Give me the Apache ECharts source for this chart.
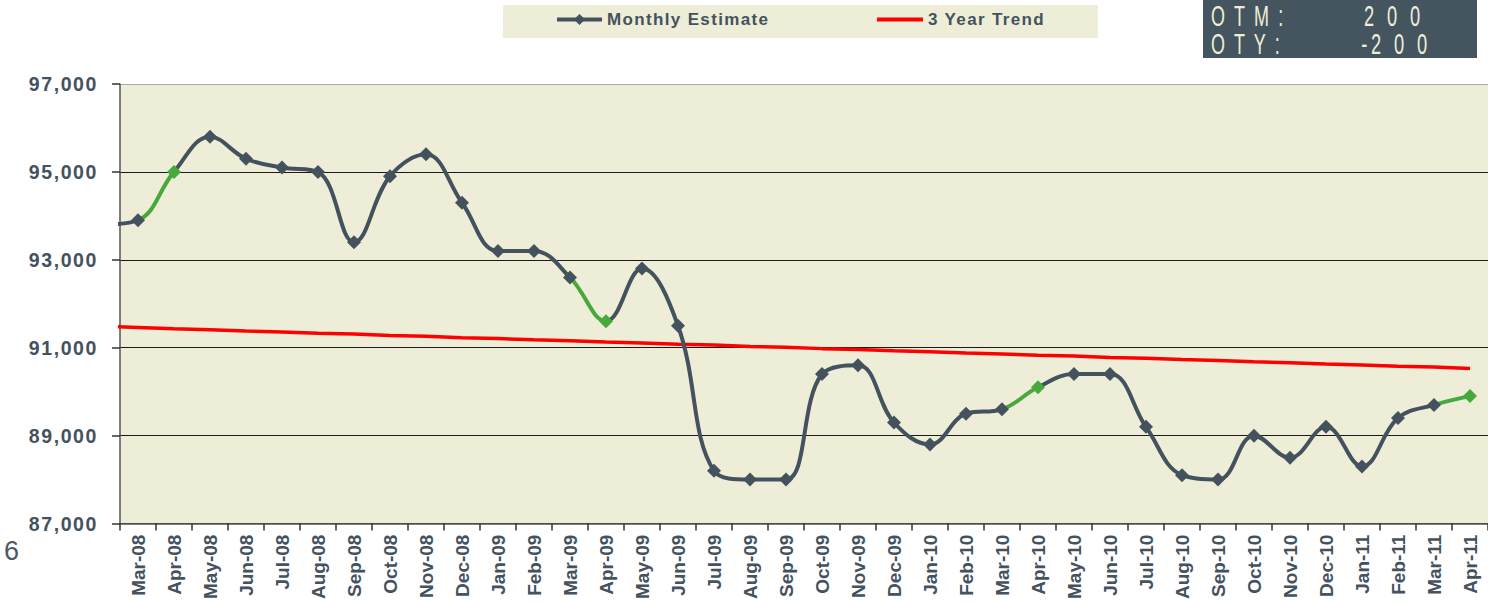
<!DOCTYPE html>
<html>
<head>
<meta charset="utf-8">
<script src="https://cdn.jsdelivr.net/npm/echarts@6/dist/echarts.min.js"></script>
<style>
  html, body { margin: 0; padding: 0; background: #ffffff; }
  #chart { width: 1488px; height: 602px; }
</style>
</head>
<body>
<div id="chart"></div>
<script>
// ---------------- data ----------------
// Feb-08 lies just left of the visible axis range (the lines run in from the left edge)
const categories = [
  'Feb-08',
  'Mar-08','Apr-08','May-08','Jun-08','Jul-08','Aug-08','Sep-08','Oct-08','Nov-08','Dec-08',
  'Jan-09','Feb-09','Mar-09','Apr-09','May-09','Jun-09','Jul-09','Aug-09','Sep-09','Oct-09','Nov-09','Dec-09',
  'Jan-10','Feb-10','Mar-10','Apr-10','May-10','Jun-10','Jul-10','Aug-10','Sep-10','Oct-10','Nov-10','Dec-10',
  'Jan-11','Feb-11','Mar-11','Apr-11'
];
const firstVisibleMonth = 'Mar-08';
const monthlyEstimate = [
  93800,
  93900, 95000, 95800, 95300, 95100, 95000, 93400, 94900, 95400, 94300,
  93200, 93200, 92600, 91600, 92800, 91500, 88200, 88000, 88000, 90400, 90600, 89300,
  88800, 89500, 89600, 90100, 90400, 90400, 89200, 88100, 88000, 89000, 88500, 89200,
  88300, 89400, 89700, 89900
];
const threeYearTrend = [
  91490,
  91460, 91430, 91410, 91380, 91360, 91330, 91310, 91280, 91260, 91230,
  91210, 91180, 91160, 91130, 91110, 91080, 91060, 91030, 91010, 90980, 90960, 90930,
  90910, 90880, 90860, 90830, 90810, 90780, 90760, 90730, 90710, 90680, 90660, 90630,
  90610, 90580, 90560, 90530
];
const greenMonths = ['Apr-08', 'Apr-09', 'Apr-10', 'Apr-11'];
const yMin = 87000, yMax = 97000, yStep = 2000;
const seriesNames = ['Monthly Estimate', '3 Year Trend'];
const boxLabels = ['O T M :', 'O T Y :'];
const boxValues = ['2 0 0', '-2 0 0'];
const pageNumber = '6';

// ---------------- styling ----------------
const FONT = "'Liberation Sans', Arial, Helvetica, sans-serif";
const SLATE = '#44525E';
const GREEN = '#47A83C';
const CREAM = '#EEEDD8';
const BOX = '#455560';

const greenPieces = greenMonths.map(m => {
  const i = categories.indexOf(m);
  return { gt: i - 1, lte: i, color: GREEN };
});

const chart = echarts.init(document.getElementById('chart'), null, { renderer: 'svg' });

const boxText = (text, x, y, align, size) => ({
  type: 'text', z: 1, x: x, y: y, scaleX: 0.62,
  style: {
    text: text, fill: CREAM, fontSize: size, fontFamily: FONT,
    align: align, verticalAlign: 'middle', textAlign: align, textVerticalAlign: 'middle'
  }
});

const legendText = { color: SLATE, fontSize: 17, fontWeight: 'bold', fontFamily: FONT };

const option = {
  animation: false,
  backgroundColor: '#ffffff',
  grid: {
    left: 120, right: -13, top: 84, bottom: 75,
    show: true, backgroundColor: CREAM, borderWidth: 0
  },
  legend: [
    {
      data: [{ name: seriesNames[0], itemStyle: { color: SLATE }, lineStyle: { color: SLATE, width: 4 } }],
      left: 555, top: 11, padding: 0,
      itemWidth: 45, itemHeight: 14, itemGap: 0, z: 5,
      textStyle: legendText
    },
    {
      data: [{ name: seriesNames[1], icon: 'rect', itemStyle: { color: '#FF0000' } }],
      left: 877, top: 11, padding: 0,
      itemWidth: 46, itemHeight: 4, itemGap: 0, z: 5,
      textStyle: legendText
    }
  ],
  visualMap: {
    show: false, type: 'piecewise', seriesIndex: 0, dimension: 0,
    pieces: greenPieces,
    outOfRange: { color: SLATE }
  },
  xAxis: {
    type: 'category', data: categories, boundaryGap: true,
    min: categories.indexOf(firstVisibleMonth),
    axisLine: { show: true, lineStyle: { color: '#555555', width: 1.5 } },
    axisTick: { show: true, alignWithLabel: false, length: 7, lineStyle: { color: '#333333', width: 1.5 } },
    axisLabel: {
      interval: 0, rotate: 90, margin: 11,
      color: SLATE, fontSize: 19, fontWeight: 'bold', fontFamily: FONT
    },
    splitLine: { show: false }
  },
  yAxis: {
    type: 'value', min: yMin, max: yMax, interval: yStep,
    axisLine: { show: true, lineStyle: { color: '#555555', width: 1.5 } },
    axisTick: { show: true, length: 8, lineStyle: { color: '#333333', width: 1.5 } },
    axisLabel: {
      margin: 22, color: SLATE, fontSize: 19.5, fontWeight: 'bold', fontFamily: FONT,
      formatter: v => v.toLocaleString('en-US')
    },
    splitLine: {
      show: true,
      lineStyle: { color: ['#333333', '#1a1a1a', '#1a1a1a', '#1a1a1a', '#1a1a1a', '#aaaaaa'], width: 1.2 }
    }
  },
  series: [
    {
      name: seriesNames[0], type: 'line', data: monthlyEstimate,
      smooth: 0.4, symbol: 'diamond', symbolSize: 14,
      lineStyle: { width: 4 },
      clip: true, z: 3
    },
    {
      name: seriesNames[1], type: 'line', data: threeYearTrend,
      symbol: 'none', lineStyle: { width: 3.5, color: '#FF0000' },
      itemStyle: { color: '#FF0000' },
      clip: true, z: 2
    }
  ],
  graphic: [
    { type: 'rect', z: 0, shape: { x: 503, y: 5, width: 595, height: 33 }, style: { fill: CREAM } },
    { type: 'rect', z: 0, shape: { x: 1203, y: 0, width: 274, height: 58 }, style: { fill: BOX } },
    boxText(boxLabels[0], 1211, 16, 'left', 29),
    boxText(boxValues[0], 1424, 16, 'right', 29.5),
    boxText(boxLabels[1], 1211, 44, 'left', 29),
    boxText(boxValues[1], 1431, 44, 'right', 29.5),
    { type: 'text', z: 1, x: 4, y: 551,
      style: { text: pageNumber, fill: '#4B5A66', fontSize: 27, fontFamily: FONT, align: 'left', verticalAlign: 'middle', textAlign: 'left', textVerticalAlign: 'middle' } }
  ]
};

chart.setOption(option);

// letter spacing of the spaced-out reference typography (applied to the SVG text nodes)
function applySpacing() {
  document.querySelectorAll('#chart svg text').forEach(t => {
    const s = t.getAttribute('style') || '';
    let ls = null;
    if (s.indexOf('19.5px') >= 0) ls = 1.6;
    else if (s.indexOf('17px') >= 0) ls = 1.35;
    else if (s.indexOf('29.5px') >= 0) ls = 6.2;
    else if (s.indexOf('29px') >= 0) ls = 3.5;
    if (ls !== null) {
      t.setAttribute('letter-spacing', ls);
      t.style.letterSpacing = ls + 'px';
    }
  });
}
chart.on('finished', applySpacing);
applySpacing();
setTimeout(applySpacing, 0);
</script>
</body>
</html>
